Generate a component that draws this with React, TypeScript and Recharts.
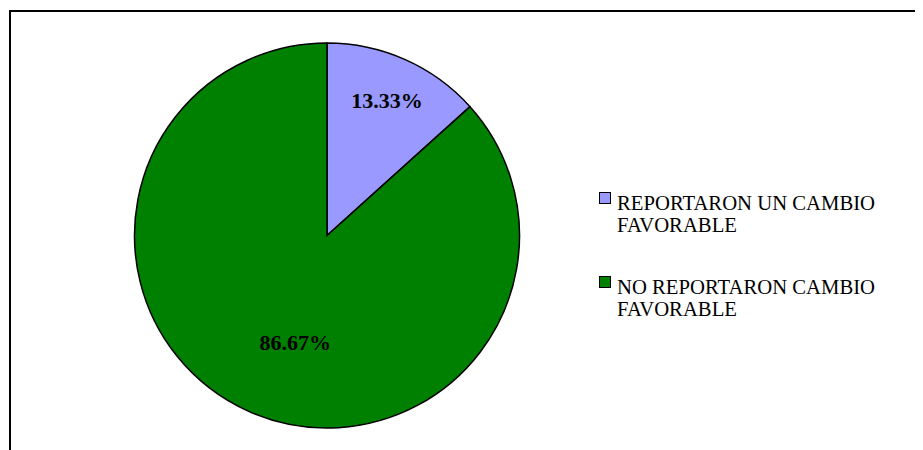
import { PieChart, Pie, Cell, Legend } from 'recharts';

const categories = ['REPORTARON UN CAMBIO FAVORABLE', 'NO REPORTARON CAMBIO FAVORABLE'];
const legendLines = [
  ['REPORTARON UN CAMBIO', 'FAVORABLE'],
  ['NO REPORTARON CAMBIO', 'FAVORABLE'],
];
const percentages = [13.33, 86.67];
const colors = ['#9999FF', '#008000'];

const data = categories.map((name, i) => ({ name, value: percentages[i] }));

// label placement inside each slice (fraction of radius, angle nudge in degrees)
const LABEL_RADIUS = [0.765, 0.58];
const LABEL_ANGLE_SHIFT = [0, 7.5];
const RADIAN = Math.PI / 180;
const FONT = '"Liberation Serif", "Times New Roman", serif';

const renderLabel = (props: any) => {
  const { cx, cy, midAngle, outerRadius, index, value } = props;
  const r = outerRadius * LABEL_RADIUS[index];
  const a = (midAngle + LABEL_ANGLE_SHIFT[index]) * RADIAN;
  const x = cx + r * Math.cos(-a);
  const y = cy + r * Math.sin(-a);
  return (
    <text x={x} y={y} textAnchor="middle" dominantBaseline="central"
      style={{ fontFamily: FONT, fontSize: 22, fontWeight: 700, fill: '#000' }}>
      {Number(value).toFixed(2)}%
    </text>
  );
};

const renderLegend = () => (
  <div style={{ fontFamily: FONT, fontSize: 20.7, lineHeight: '22px', color: '#000' }}>
    {legendLines.map((lines, i) => (
      <div key={i} style={{ display: 'flex', marginBottom: i === 0 ? 40 : 0 }}>
        <div style={{ width: 10, height: 10, background: colors[i], border: '1px solid #000', marginTop: 0, marginRight: 6, flexShrink: 0 }} />
        <div>{lines.map(l => <div key={l} style={{ whiteSpace: 'nowrap' }}>{l}</div>)}</div>
      </div>
    ))}
  </div>
);

export default function App() {
  return (
    <div style={{ position: 'relative', width: 915, height: 442, overflow: 'hidden', background: '#fff' }}>
      <div style={{ position: 'absolute', left: 1, top: 2, width: 1000, height: 1000, border: '2px solid #000', boxSizing: 'border-box' }} />
      <div style={{ position: 'absolute', left: 0, top: 0 }}>
        <PieChart width={915} height={442} margin={{ top: 0, right: 0, bottom: 0, left: 0 }}>
          <Pie
            data={data}
            dataKey="value"
            nameKey="name"
            cx={319}
            cy={227.5}
            outerRadius={192.5}
            startAngle={90}
            endAngle={-270}
            stroke="#000"
            strokeWidth={1.5}
            label={renderLabel}
            labelLine={false}
            isAnimationActive={false}
          >
            {data.map((d, i) => <Cell key={d.name} fill={colors[i]} />)}
          </Pie>
          <Legend content={renderLegend} wrapperStyle={{ left: 591, top: 184, width: 320 }} />
        </PieChart>
      </div>
    </div>
  );
}
